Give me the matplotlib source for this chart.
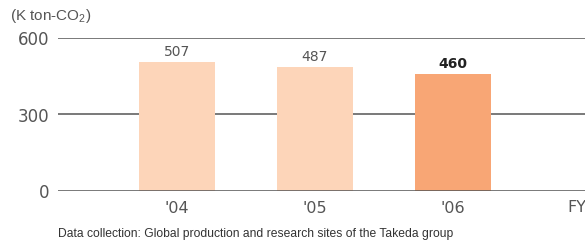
#!/usr/bin/env python3
# -*- coding: utf-8 -*-

import matplotlib
matplotlib.use('Agg')
import matplotlib.pyplot as plt

# data
years  = ["'04", "'05", "'06"]
values = [507, 487, 460]
colors = ['#fdd5b9', '#fdd5b9', '#f8a675']
yticks = [0, 300, 600]

plt.rcParams['font.family'] = ['DejaVu Sans']
plt.rcParams['mathtext.default'] = 'regular'

def main():
    fig = plt.figure(figsize=(5.85, 2.45), dpi=100)
    ax  = fig.add_axes([58/585, 54/245, 527/585, 153/245])

    xs = list(range(len(years)))

    # grid lines (0 line drawn over bars)
    for t in yticks:
        ax.axhline(t, color='#555555', lw=1.1, zorder=3 if t == 0 else 0)

    ax.bar(xs, values, width=0.545, color=colors, zorder=2)

    for i, v in enumerate(values):
        last = i == len(values) - 1
        ax.text(xs[i], v + 12, str(v), ha='center', va='bottom',
                fontsize=10, color='#222222' if last else '#555555',
                fontweight='bold' if last else 'normal')

    ax.set_xlim(-0.862, 2.957)
    ax.set_ylim(0, 600)
    for s in ax.spines.values():
        s.set_visible(False)
    ax.set_yticks(yticks)
    ax.set_yticklabels([str(t) for t in yticks], fontsize=12, color='#555555')
    ax.tick_params(axis='y', length=0, pad=6)
    ax.set_xticks(xs)
    ax.set_xticklabels(years, fontsize=11.5, color='#555555')
    ax.tick_params(axis='x', length=0, pad=7)

    fig.text(577/585, 1 - 208/245, 'FY', ha='center', va='center',
             fontsize=11.5, color='#555555')
    fig.text(10/585, 1 - 16/245, '(K ton-CO$_2$)', ha='left', va='center',
             fontsize=11, color='#555555', family=['Liberation Sans', 'DejaVu Sans'])
    fig.text(58/585, 1 - 234/245,
             'Data collection: Global production and research sites of the Takeda group',
             ha='left', va='center', fontsize=8.7, color='#333333',
             family=['Liberation Sans', 'DejaVu Sans'])

    fig.savefig('out.png', dpi=100)

if __name__ == '__main__':
    main()
